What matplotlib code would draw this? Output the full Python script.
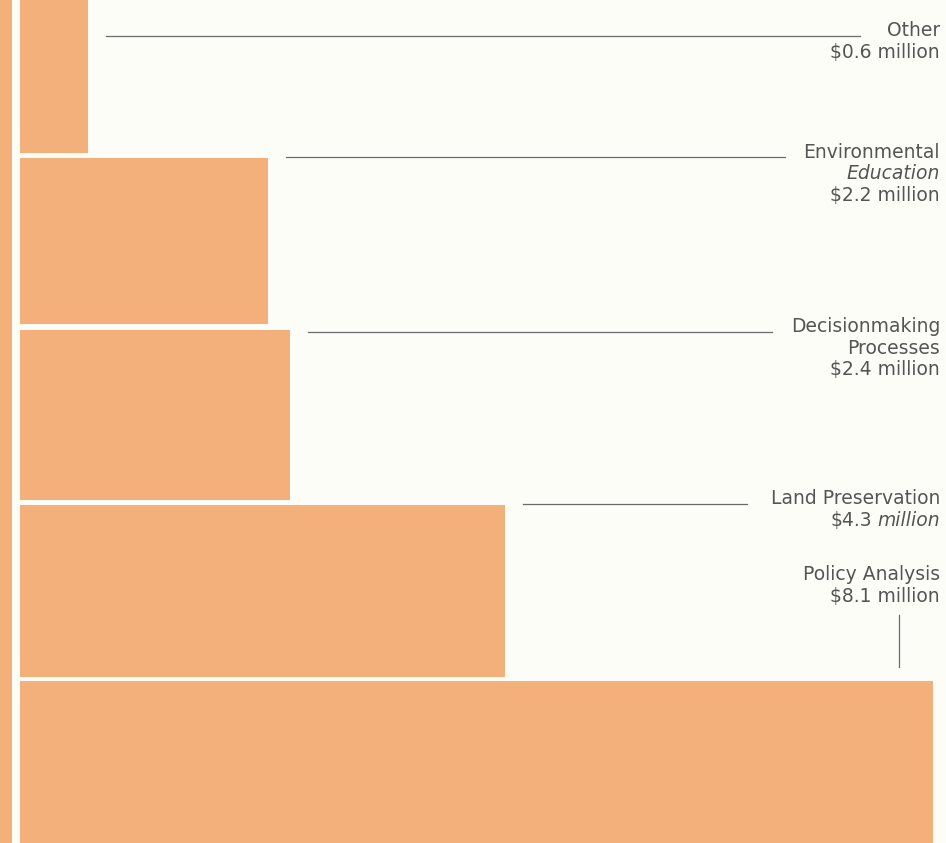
import matplotlib.pyplot as plt
from matplotlib.patches import Rectangle

# funding by program area, $ million (top to bottom)
categories = ['Other', 'Environmental Education', 'Decisionmaking Processes',
              'Land Preservation', 'Policy Analysis']
amounts = [0.6, 2.2, 2.4, 4.3, 8.1]

# label text, one list of (line, italic) per bar
label_lines = [
    [('Other', False), ('$0.6 million', False)],
    [('Environmental', False), ('Education', True), ('$2.2 million', False)],
    [('Decisionmaking', False), ('Processes', False), ('$2.4 million', False)],
    [('Land Preservation', False), ('$4.3 million', 'part')],
    [('Policy Analysis', False), ('$8.1 million', False)],
]

# layout (pixels from the top of the figure)
W, H = 946, 843
X0 = 20            # pixel where value 0 sits
SCALE = 112.7      # pixels per $ million
bar_top = [0, 158, 330, 505, 681]
bar_bottom = [153, 324, 500, 677, 843]
text_y = [31, 152, 327, 499, 575]
line_y = [36, 157, 332, 504]
line_end = [860, 785, 772, 747]
LINE_STEP = 21.5

BAR = '#F3B07B'
BG = '#FDFDF8'
TXT = '#555555'


def px(x):
    return (x - X0) / SCALE


fig = plt.figure(figsize=(W / 100, H / 100), dpi=100, facecolor=BG)
ax = fig.add_axes([0, 0, 1, 1])
ax.set_facecolor(BG)
ax.set_xlim(px(0), px(W))
ax.set_ylim(H, 0)
ax.axis('off')

# left strip
ax.add_patch(Rectangle((0, 0), 12 / W, 1, transform=ax.transAxes,
                       color=BAR, lw=0))

centers = [(t + b) / 2 for t, b in zip(bar_top, bar_bottom)]
heights = [b - t for t, b in zip(bar_top, bar_bottom)]
ax.barh(centers, amounts, height=heights, left=0, color=BAR, lw=0)

font = dict(family=['DejaVu Sans'], fontsize=13.5, color=TXT,
            ha='right', va='center')
tx = px(940)
for i, lines in enumerate(label_lines):
    for j, (s, it) in enumerate(lines):
        y = text_y[i] + j * LINE_STEP
        if it == 'part':
            # "$4.3" upright, "million" italic
            head, tail = s.split(' ', 1)
            t = ax.text(tx, y, tail, style='italic', **font)
            ax.annotate(head, xy=(0, 0.5), xycoords=t, xytext=(-4, 0),
                        textcoords='offset points', **font)
        else:
            ax.text(tx, y, s, style='italic' if it else 'normal', **font)

# leader lines
for i in range(4):
    ax.plot([amounts[i] + px(38), px(line_end[i])], [line_y[i], line_y[i]],
            color='#6a6a6a', lw=0.9)
ax.plot([px(899), px(899)], [615, 667], color='#6a6a6a', lw=0.9)

fig.savefig('out.png', dpi=100, facecolor=BG)
